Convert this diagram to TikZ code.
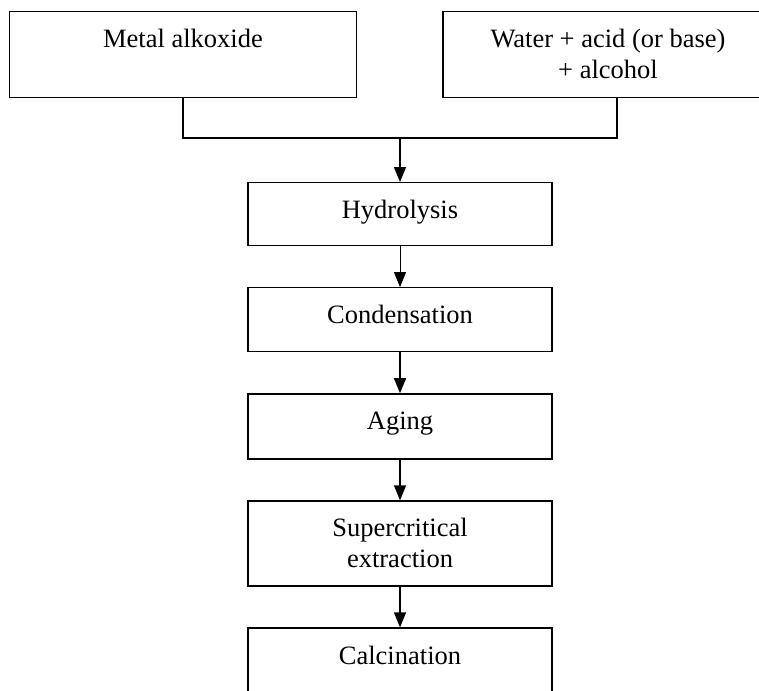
\documentclass[tikz,border=0pt]{standalone}
\usepackage{fontspec}
\setmainfont{Liberation Serif}
\usetikzlibrary{arrows.meta,positioning}

\tikzset{
  stepbox/.style={draw, line width=1.3pt, inner sep=0pt, minimum width=304pt,
    text height=36pt, font=\fontsize{26.5}{31}\selectfont},
  flow/.style={line width=1.5pt, -{Triangle[length=15pt,width=12pt]}},
}

\begin{document}
\begin{tikzpicture}[x=1pt, y=-1pt, node distance=40.8pt]
  \clip (0,0) rectangle (759,690);
  % starting materials
  \node[stepbox, minimum width=347.5pt, text depth=50pt, anchor=north] (metal) at (183,11) {Metal alkoxide};
  \node[stepbox, minimum width=330pt, text depth=50pt, anchor=north] (water) at (608,11)
    {\begin{tabular}[t]{@{}c@{}}Water + acid (or base)\\+ alcohol\end{tabular}};
  % process steps
  \node[stepbox, text depth=27pt, anchor=north] (hydro) at (400,182) {Hydrolysis};
  \node[stepbox, text depth=28pt, below=of hydro] (cond) {Condensation};
  \node[stepbox, text depth=29pt, below=of cond] (aging) {Aging};
  \node[stepbox, text depth=49pt, below=of aging] (super)
    {\begin{tabular}[t]{@{}c@{}}Supercritical\\extraction\end{tabular}};
  \node[stepbox, text depth=50pt, below=of super] (calc) {Calcination};
  % joining the two inputs
  \coordinate (join) at (400,138);
  \coordinate (wtap) at (617,138);
  \draw[line width=1.3pt] (metal.south) |- (wtap) -- (water.south -| wtap);
  \draw[flow] (join) -- (hydro);
  \draw[flow, line width=0.7pt] (hydro) -- (cond);
  \draw[flow] (cond) -- (aging);
  \draw[flow] (aging) -- (super);
  \draw[flow] (super) -- (calc);
\end{tikzpicture}
\end{document}
